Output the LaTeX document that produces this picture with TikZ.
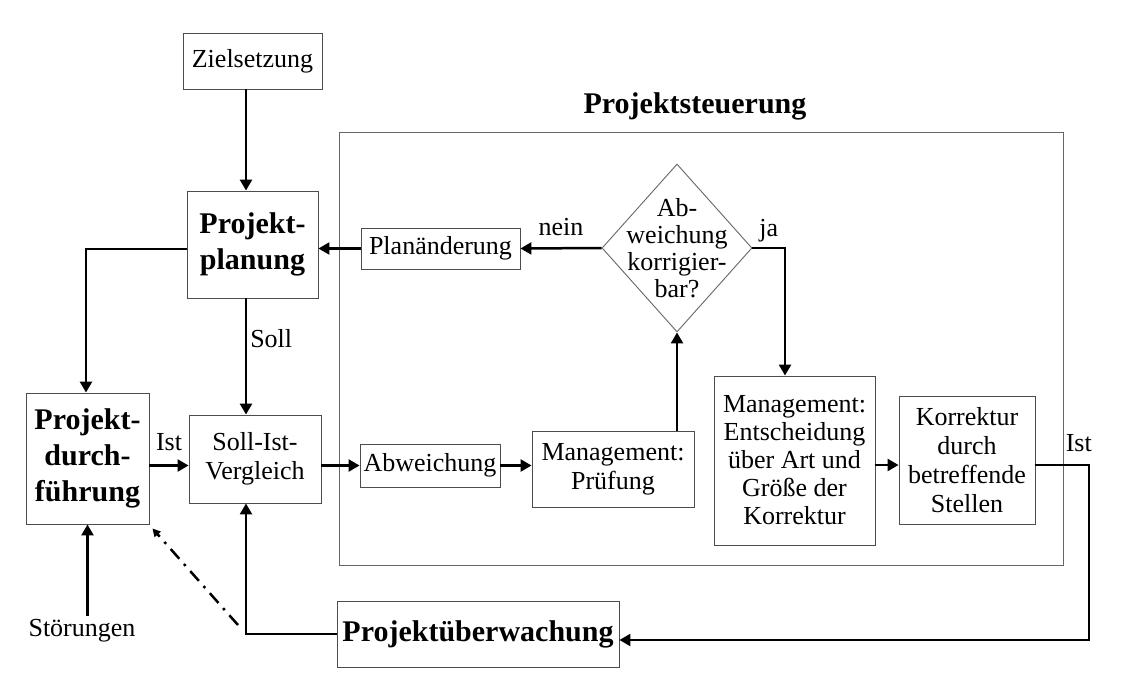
\documentclass[tikz,border=0pt]{standalone}
\usepackage{fontspec}
\setmainfont{Liberation Serif}
\usetikzlibrary{shapes.geometric,arrows.meta}

\newcommand{\normalschrift}{\fontsize{26}{29}\selectfont}
\newcommand{\fettschrift}{\fontsize{30}{36}\selectfont\bfseries}

\begin{document}
\begin{tikzpicture}[x=1pt, y=-1pt,
  >={Triangle[length=11pt,width=12pt]},
  box/.style={draw=black!70, line width=0.9pt, align=center, inner sep=0pt, font=\normalschrift},
  fettbox/.style={box, font=\fettschrift},
  entscheid/.style={diamond, draw=black!60, line width=0.9pt, align=center, inner sep=-30pt,
    minimum width=150pt, minimum height=168pt, font=\fontsize{26}{27}\selectfont},
  marke/.style={font=\normalschrift, inner sep=3pt}]
\useasboundingbox (0,0) rectangle (1129,675);

% Rahmen Projektsteuerung
\node[draw=black!60, line width=0.9pt, inner sep=0pt, minimum width=724pt, minimum height=433pt] (steuerung) at (701, 348.5) {};
\node[font=\fettschrift, anchor=base] (titel) at (695, 113) {Projektsteuerung};

\begin{scope}[every node/.style = {box}]
\node[minimum width=139pt, minimum height=56pt] (ziel) at (252.5, 61) {Zielsetzung};
\node[fettbox, minimum width=131pt, minimum height=107pt] (plan) at (252.5, 244.5) {Projekt-\\planung};
\node[fettbox, minimum width=123pt, minimum height=131pt] (durch) at (87.5, 458.5) {Projekt-\\durch-\\führung};
\node[minimum width=132pt, minimum height=88pt] (soll) at (255, 459) {Soll-Ist-\\Vergleich};
\node[minimum width=159pt, minimum height=41pt] (planaend) at (440.5, 248.5) {Planänderung};
\node[entscheid] (dec) at (677, 248) {Ab-\\weichung\\korrigier-\\bar?};
\node[minimum width=140pt, minimum height=43pt] (abw) at (430, 465.5) {Abweichung};
\node[minimum width=162pt, minimum height=76pt] (pruef) at (613, 469) {Management:\\Prüfung};
\node[minimum width=161pt, minimum height=169pt, font=\fontsize{26}{28}\selectfont] (ents) at (794.5, 460.5) {Management:\\Entscheidung\\über Art und\\Größe der\\Korrektur};
\node[minimum width=136pt, minimum height=128pt] (korr) at (967, 460) {Korrektur\\durch\\betreffende\\Stellen};
\node[fettbox, minimum width=282pt, minimum height=66pt] (ueberw) at (478, 634) {Projektüberwachung};
\end{scope}
\node[marke, anchor=base] (stoer) at (82, 636) {Störungen};

% Knickpunkte
\coordinate (achse) at (246, 0);
\coordinate (links) at (86, 249);
\coordinate (jaknick) at (785, 248);
\coordinate (istknick) at (1089, 465);
\coordinate (istunten) at (1089, 640);
\coordinate (rueck) at (246, 634);

\begin{scope}[line width=2.5pt, every edge/.style = {draw, line width=2.5pt}]
\path (ziel.south -| achse) edge[->] (plan.north -| achse);
\path (plan.south -| achse) edge[->] node[marke, anchor=west, pos=0.35] {Soll} (soll.north -| achse);
\draw[->] (plan.west |- links) -- (links) -- (links |- durch.north);
\path (stoer.north -| durch.south) edge[->] (durch.south);
\path (durch.east |- abw) edge[->] node[marke, above=11pt] {Ist} (soll.west |- abw);
\path (soll.east |- abw) edge[->] (abw.west);
\path (abw.east) edge[->] (abw.east -| pruef.west);
\path (pruef.north -| dec.south) edge[->] (dec.south);
\path (dec.west) edge[->] node[marke, above=8pt] {nein} (planaend.east);
\path (planaend.west) edge[->] (planaend.west -| plan.east);
\draw[->] (dec.east) -- node[marke, above=2pt] {ja} (jaknick) -- (jaknick |- ents.north);
\path (ents.east |- istknick) edge[->] (korr.west |- istknick);
\draw[->] (korr.east |- istknick) -- (istknick) node[marke, anchor=south east, xshift=7pt, yshift=9pt] {Ist}
  -- (istunten) -- (istunten -| ueberw.east);
\draw[->] (ueberw.west) -- (rueck) -- (rueck |- soll.south);
\draw[line width=2.5pt, dash pattern=on 13pt off 7pt on 2.5pt off 7pt, -{Triangle[length=8pt,width=8pt]}]
  ([shift={(-8pt,9pt)}]rueck) -- ([shift={(3pt,-4pt)}]durch.south east);
\end{scope}
\end{tikzpicture}
\end{document}
